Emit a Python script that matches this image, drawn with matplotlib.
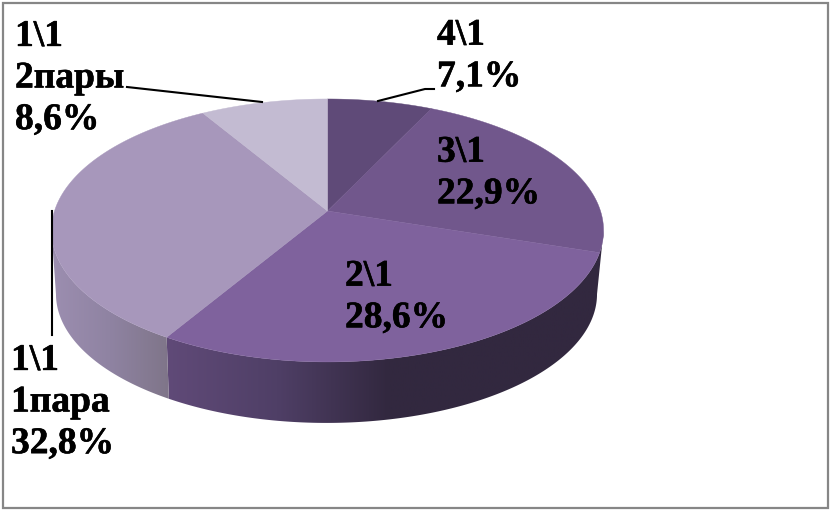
import matplotlib
matplotlib.use("Agg")
import matplotlib.pyplot as plt
import matplotlib.patheffects as pe
import numpy as np
from matplotlib.colors import LinearSegmentedColormap
from matplotlib.patches import Polygon, Rectangle

values = [7.1, 22.9, 28.6, 32.8, 8.6]
labels = ["4\\1", "3\\1", "2\\1", "1\\1\n1пара", "1\\1\n2пары"]
percents = ["7,1%", "22,9%", "28,6%", "32,8%", "8,6%"]
top_colors = ["#5f4a78", "#71578c", "#7f629d", "#a797bb", "#c3bbd2"]

# apex of the pie and the tilt of the disc, in pixels
cx, cy = 327.5, 211
R, A, k = 273, 128.6, 0.148
depth, shrink, shift = 64, 0.98, -1


def rim(a, scale=1.0, dy=0.0, dx=0.0):
    # a = clockwise angle from 12 o'clock, radians
    d = 1 + k * np.cos(a)
    return cx + dx + scale * R * np.sin(a) / d, cy + dy - scale * A * np.cos(a) / d


fig = plt.figure(figsize=(8.3, 5.11), dpi=100)
ax = fig.add_axes([0, 0, 1, 1])
ax.axis("off")

edges = np.radians(np.concatenate([[0], np.cumsum(values)]) / sum(values) * 360)

# silhouette of the disc touches its rim at these angles
side_r = np.arccos(-k)
side_l = 2 * np.pi - side_r

# side walls, the sliver of 3\1 on the right is the same dark colour as the end of 2\1
walls = {
    2: ["#604a78", "#4f3f66", "#32283f", "#32283f", "#32283f"],
    3: ["#9c8eb0", "#8f83a2", "#7f7589"],
}
for i, cols in walls.items():
    start = side_r if i == 2 else edges[i]
    a = np.linspace(start, min(edges[i + 1], side_l), 200)
    x1, y1 = rim(a)
    x2, y2 = rim(a, shrink, depth, shift)
    xs = np.concatenate([x1, x2[::-1]])
    ys = np.concatenate([y1, y2[::-1]])
    poly = Polygon(np.column_stack([xs, ys]), closed=True, fc="none", ec="none", transform=ax.transData)
    ax.add_patch(poly)
    cmap = LinearSegmentedColormap.from_list("w", cols)
    grad = np.linspace(0, 1, 256).reshape(1, -1)
    if i == 3:
        ext = [52, 168, 430, 100]
    else:
        ext = [166, 610, 430, 100]
    im = ax.imshow(grad, cmap=cmap, extent=ext, aspect="auto", zorder=2)
    im.set_clip_path(poly)
ax.set_xlim(0, 830)
ax.set_ylim(511, 0)

# top face
for i in range(len(values)):
    a = np.linspace(edges[i], edges[i + 1], 200)
    x, y = rim(a)
    xs = np.concatenate([[cx], x])
    ys = np.concatenate([[cy], y])
    ax.fill(xs, ys, color=top_colors[i], lw=0.3, zorder=3)

# leader lines
ax.plot([378, 425, 434], [101, 89, 89], color="black", lw=1.5, zorder=4)
ax.plot([127, 262], [87, 102], color="black", lw=1.5, zorder=4)
ax.plot([52, 52], [211, 335], color="black", lw=1.5, zorder=4)

font = dict(family="Liberation Serif", fontweight="bold", fontsize=27, color="black",
            ha="left", va="center", linespacing=1.245, zorder=5)
text_pos = [(437, 56), (437, 173), (345, 297), (11, 402), (15, 78)]
for lab, pc, (tx, ty) in zip(labels, percents, text_pos):
    t = ax.text(tx, ty, lab + "\n" + pc, **font)
    t.set_path_effects([pe.withStroke(linewidth=0.4, foreground="black")])

ax.add_patch(Rectangle((3, 3), 825, 505, fc="none", ec="#868686", lw=1.6, zorder=6))

fig.savefig("out.png", dpi=100)
